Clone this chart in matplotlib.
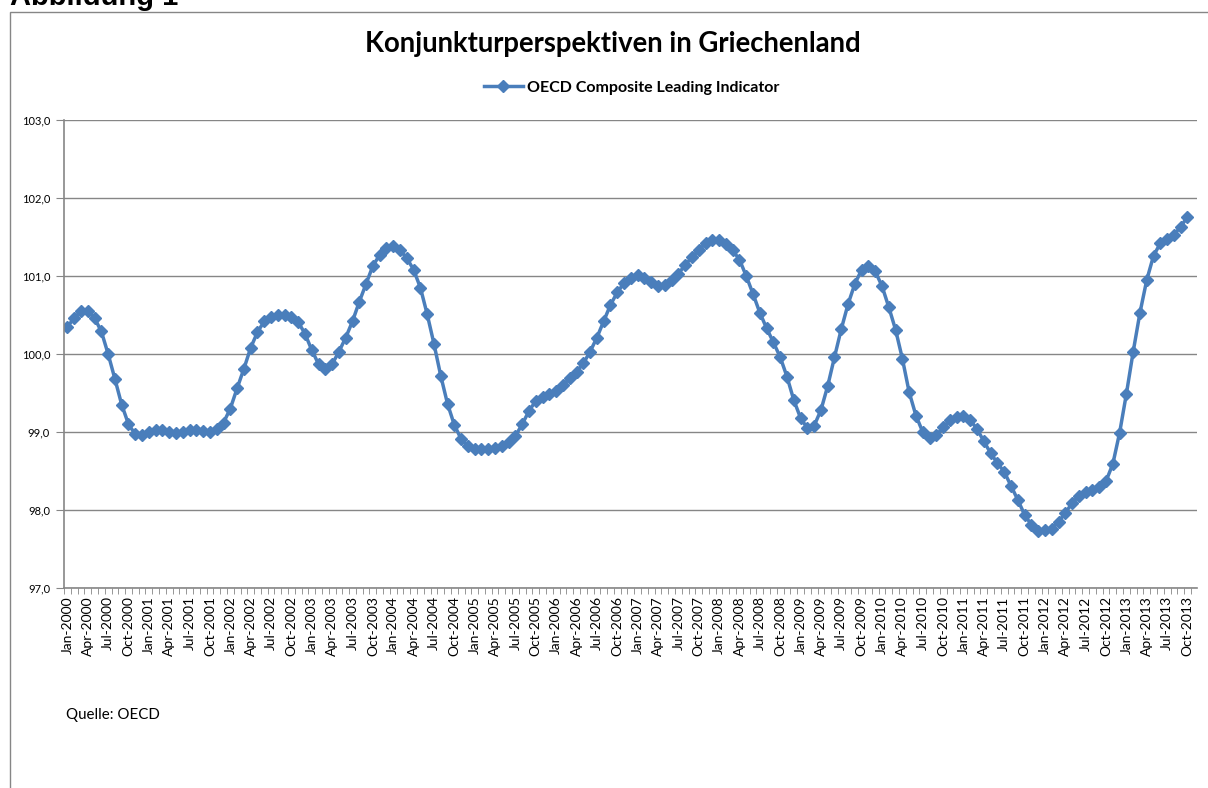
import numpy as np
import matplotlib
matplotlib.use("Agg")
import matplotlib.pyplot as plt
from matplotlib.patches import Rectangle

# OECD Composite Leading Indicator, Griechenland, monatlich Jan 2000 - Okt 2013
start_year = 2000
n_months = 166
cli = [
    100.35, 100.46, 100.55, 100.55, 100.46, 100.29, 100.00, 99.68, 99.35, 99.10, 98.97, 98.96,  # 2000
    99.00, 99.03, 99.03, 99.00, 98.99, 99.00, 99.02, 99.02, 99.01, 99.00, 99.04, 99.12,  # 2001
    99.30, 99.56, 99.81, 100.08, 100.28, 100.42, 100.47, 100.50, 100.50, 100.48, 100.41, 100.26,  # 2002
    100.05, 99.87, 99.81, 99.87, 100.03, 100.21, 100.42, 100.67, 100.90, 101.13, 101.27, 101.36,  # 2003
    101.38, 101.33, 101.23, 101.08, 100.85, 100.51, 100.13, 99.72, 99.36, 99.09, 98.91, 98.82,  # 2004
    98.78, 98.78, 98.78, 98.79, 98.82, 98.87, 98.95, 99.10, 99.27, 99.40, 99.45, 99.49,  # 2005
    99.53, 99.60, 99.69, 99.77, 99.88, 100.03, 100.21, 100.42, 100.63, 100.79, 100.91, 100.97,  # 2006
    101.01, 100.97, 100.92, 100.87, 100.88, 100.95, 101.03, 101.14, 101.24, 101.33, 101.42, 101.46,  # 2007
    101.46, 101.41, 101.33, 101.21, 101.00, 100.77, 100.53, 100.33, 100.15, 99.96, 99.71, 99.41,  # 2008
    99.18, 99.05, 99.08, 99.28, 99.59, 99.96, 100.32, 100.64, 100.90, 101.08, 101.13, 101.06,  # 2009
    100.87, 100.60, 100.31, 99.94, 99.51, 99.21, 99.00, 98.92, 98.96, 99.06, 99.15, 99.19,  # 2010
    99.21, 99.15, 99.04, 98.88, 98.73, 98.60, 98.49, 98.31, 98.13, 97.94, 97.81, 97.73,  # 2011
    97.74, 97.76, 97.85, 97.96, 98.09, 98.18, 98.23, 98.26, 98.29, 98.37, 98.59, 98.99,  # 2012
    99.49, 100.03, 100.53, 100.95, 101.26, 101.42, 101.47, 101.53, 101.63, 101.76,  # 2013
]
month_names = ["Jan", "Feb", "Mar", "Apr", "May", "Jun", "Jul", "Aug", "Sep", "Oct", "Nov", "Dec"]
labels = ["%s-%d" % (month_names[i % 12], start_year + i // 12) for i in range(n_months)]
y_ticks = [97, 98, 99, 100, 101, 102, 103]

blue = "#4a7ebb"
grey = "#868686"
font = ["Lato", "DejaVu Sans"]

fig = plt.figure(figsize=(12.08, 7.88), dpi=100)
fig.patch.set_facecolor("white")

# Rahmen des Diagrammbereichs
fig.add_artist(Rectangle((10 / 1208, -0.1), 1.2, 1 - 12 / 788 + 0.1, transform=fig.transFigure,
                         fill=False, edgecolor=grey, linewidth=1.0))
fig.text(10 / 1208, 1 - 5 / 788, "Abbildung 1", fontsize=21, fontweight="bold",
         family=["Liberation Sans", "DejaVu Sans"], va="baseline", ha="left")

ax = fig.add_axes([64 / 1208, 1 - 588 / 788, (1197 - 64) / 1208, (588 - 120) / 788])
x = np.arange(len(cli))
ax.plot(x, cli, color=blue, linewidth=2.5, marker="D", markersize=6.5,
        markerfacecolor=blue, markeredgecolor=blue, label="OECD Composite Leading Indicator")

ax.set_xlim(-0.3, n_months + 0.4)
ax.set_ylim(97, 103)
ax.set_yticks(y_ticks)
ax.set_yticklabels([("%.1f" % v).replace(".", ",") for v in y_ticks], fontsize=8, family=font)
ax.yaxis.grid(True, color=grey, linewidth=1.0)
ax.set_axisbelow(True)

ax.set_xticks(range(0, n_months, 3))
ax.set_xticklabels(labels[::3], rotation=90, fontsize=10, family=font)
ax.set_xticks(np.arange(n_months + 1) - 0.5, minor=True)
ax.tick_params(axis="x", which="major", length=0, pad=6)
ax.tick_params(axis="x", which="minor", length=4, color=grey, direction="out")
ax.tick_params(axis="y", length=6, color=grey, pad=4)

for s in ["top", "right"]:
    ax.spines[s].set_visible(False)
for s in ["left", "bottom"]:
    ax.spines[s].set_color(grey)
    ax.spines[s].set_linewidth(1.2)

fig.text(613 / 1208, 1 - 44 / 788, "Konjunkturperspektiven in Griechenland", fontsize=19.8,
         fontweight="bold", family=font, ha="center", va="center")
ax.legend(loc="center", bbox_to_anchor=(632 / 1208, 1 - 88 / 788), bbox_transform=fig.transFigure,
          frameon=False, prop={"family": font, "weight": "bold", "size": 11.5},
          handlelength=2.4, handletextpad=0.3)
fig.text(66 / 1208, 1 - 715 / 788, "Quelle: OECD", fontsize=10.8, family=font, ha="left", va="center")

fig.savefig("out.png", dpi=100)
